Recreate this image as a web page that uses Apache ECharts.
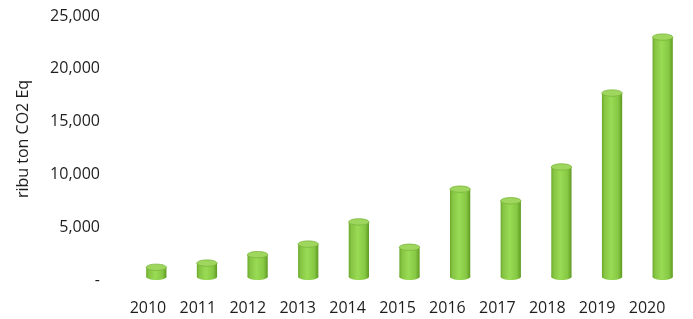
<!DOCTYPE html>
<html>
<head>
<meta charset="utf-8">
<script src="https://cdn.jsdelivr.net/npm/echarts@6/dist/echarts.min.js"></script>
<style>
html,body{margin:0;padding:0;background:#fff;}
#c{width:693px;height:319px;}
</style>
</head>
<body>
<div id="c"></div>
<script>
const categories = ['2010','2011','2012','2013','2014','2015','2016','2017','2018','2019','2020'];
const emissions = [1200, 1600, 2400, 3400, 5500, 3100, 8600, 7500, 10700, 17700, 23000];
const yTickLabels = ['-', '5,000', '10,000', '15,000', '20,000', '25,000'];
const yAxisTitle = 'ribu ton CO2 Eq';

const chart = echarts.init(document.getElementById('c'));
const font = '"Open Sans", "Noto Sans", sans-serif';

const bodyGrad = () => new echarts.graphic.LinearGradient(0, 0, 1, 0, [
  {offset: 0, color: '#6aa82c'},
  {offset: 0.12, color: '#86c443'},
  {offset: 0.45, color: '#9adb55'},
  {offset: 0.8, color: '#86c843'},
  {offset: 1, color: '#5f9a22'}
]);

chart.setOption({
  animation: false,
  grid: [
    {left: 123, right: 21, top: 16, bottom: 39},
    {left: 131, right: 5, top: 16, bottom: 39}
  ],
  xAxis: [
    {
      type: 'category', gridIndex: 0, data: categories,
      axisLine: {show: false}, axisTick: {show: false},
      axisLabel: {color: '#1e1e1e', fontSize: 16, fontFamily: font, margin: 20}
    },
    {
      type: 'category', gridIndex: 1, data: categories, show: false
    }
  ],
  yAxis: [
    {
      type: 'value', gridIndex: 0, min: 0, max: 25000, interval: 5000,
      name: yAxisTitle, nameLocation: 'middle', nameGap: 92,
      nameTextStyle: {color: '#1e1e1e', fontSize: 16, fontFamily: font, padding: [0, 0, 0, 18]},
      axisLine: {show: false}, axisTick: {show: false}, splitLine: {show: false},
      axisLabel: {
        color: '#1e1e1e', fontSize: 16, fontFamily: font, margin: 23,
        formatter: v => yTickLabels[Math.round(v / 5000)]
      }
    },
    {
      type: 'value', gridIndex: 1, min: 0, max: 25000, interval: 5000, show: false
    }
  ],
  series: [{
    type: 'custom',
    xAxisIndex: 1, yAxisIndex: 1,
    encode: {x: 0, y: 1},
    data: emissions.map((v, i) => [i, v]),
    renderItem: function (params, api) {
      const idx = api.value(0);
      const v = api.value(1);
      const top = api.coord([idx, v]);
      const base = api.coord([idx, 0]);
      const w = api.size([1, 0])[0] * 0.40;
      const rx = w / 2, ry = 3.2;
      const cx = top[0];
      const bodyBottom = base[1] - ry;
      return {
        type: 'group',
        children: [
          {type: 'ellipse', shape: {cx: cx, cy: bodyBottom, rx: rx, ry: ry},
           style: {fill: bodyGrad()}},
          {type: 'rect', shape: {x: cx - rx, y: top[1], width: w, height: bodyBottom - top[1]},
           style: {fill: bodyGrad()}},
          {type: 'ellipse', shape: {cx: cx, cy: top[1], rx: rx, ry: ry},
           style: {fill: '#9ed65e', stroke: '#79b53a', lineWidth: 0.8}}
        ]
      };
    }
  }]
});
</script>
</body>
</html>
